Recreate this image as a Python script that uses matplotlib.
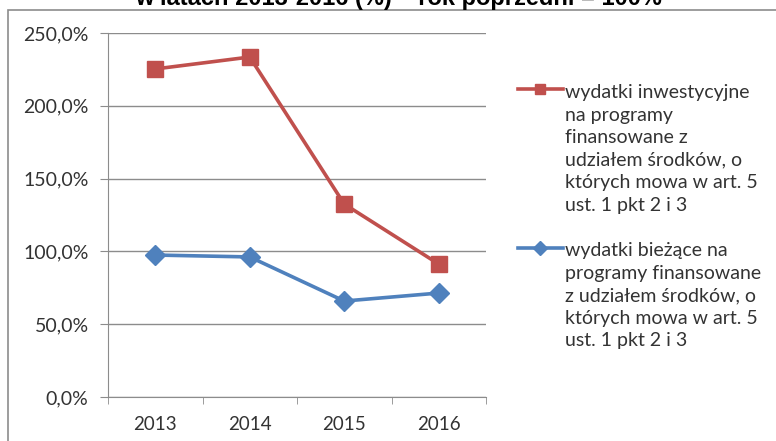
import matplotlib.pyplot as plt
from matplotlib.lines import Line2D
from matplotlib.patches import Rectangle

plt.rcParams['font.family'] = ['Lato', 'DejaVu Sans']

years = ['2013', '2014', '2015', '2016']
inwest = [225.3, 233.5, 132.5, 91.3]
biez = [97.5, 96.2, 65.9, 71.4]
yticks = [0, 50, 100, 150, 200, 250]
ytick_labels = ['0,0%', '50,0%', '100,0%', '150,0%', '200,0%', '250,0%']
labels = ['wydatki inwestycyjne\nna programy\nfinansowane z\nudziałem środków, o\nktórych mowa w art. 5\nust. 1 pkt 2 i 3',
          'wydatki bieżące na\nprogramy finansowane\nz udziałem środków, o\nktórych mowa w art. 5\nust. 1 pkt 2 i 3']
title = 'w latach 2013-2016 (%) – rok poprzedni = 100%'

red = '#C0504D'
blue = '#4F81BD'
grid = '#8C8C8C'
txt = '#333333'
W, H = 776, 441

fig = plt.figure(figsize=(7.76, 4.41), dpi=100)
ax = fig.add_axes([108/W, 1-397/H, (486-108)/W, (397-33)/H])

x = range(len(years))
ax.plot(x, inwest, color=red, lw=2.6, marker='s', ms=11.5, zorder=3)
ax.plot(x, biez, color=blue, lw=2.6, marker='D', ms=10.5, zorder=3)

ax.set_xlim(-0.5, 3.5)
ax.set_ylim(0, 250)
ax.set_yticks(yticks)
ax.set_yticklabels(ytick_labels)
ax.set_xticks(list(x))
ax.set_xticklabels(years)
ax.set_xticks([-0.5, 0.5, 1.5, 2.5, 3.5], minor=True)
ax.tick_params(axis='x', which='major', length=0, pad=14, labelsize=13.5, colors=txt)
ax.tick_params(axis='x', which='minor', length=5, color=grid)
ax.tick_params(axis='y', length=6, color=grid, pad=8, labelsize=14, colors=txt)
ax.yaxis.grid(True, color=grid, lw=1)
for s in ['top', 'right']:
    ax.spines[s].set_visible(False)
for s in ['left', 'bottom']:
    ax.spines[s].set_color(grid)

# legend drawn by hand so the key sits on the first line of text
key_y = [89, 248]
text_top = [84, 242]
for lab, col, mk, ms, ky, ty in zip(labels, [red, blue], ['s', 'D'], [7.5, 7], key_y, text_top):
    fig.add_artist(Line2D([518/W, 563/W], [1-ky/H, 1-ky/H], color=col, lw=2.6))
    fig.add_artist(Line2D([540/W], [1-ky/H], color=col, marker=mk, ms=ms))
    fig.text(565/W, 1-ty/H, lab, fontsize=14, color=txt, va='top', linespacing=1.4)

fig.text(399/W, 1-5/H, title, fontsize=17, fontweight='bold',
         family='Liberation Sans', ha='center', va='baseline')
fig.add_artist(Rectangle((8/W, -0.1), 1.2, 1.1-10/H, fill=False, ec=grid, lw=1.2,
                         transform=fig.transFigure))

fig.savefig('out.png', dpi=100)
